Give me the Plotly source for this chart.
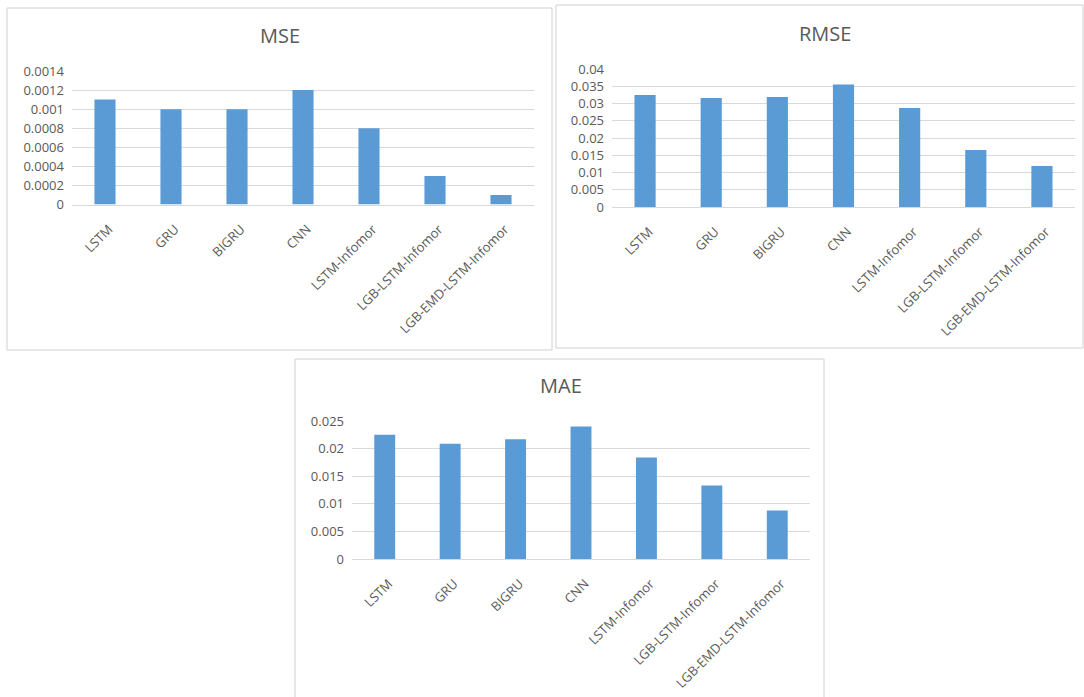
import plotly.graph_objects as go

# Models compared in each panel
models = ["LSTM", "GRU", "BIGRU", "CNN", "LSTM-Infomor",
          "LGB-LSTM-Infomor", "LGB-EMD-LSTM-Infomor"]

# Error metrics per model
mse = [0.0011, 0.0010, 0.0010, 0.0012, 0.0008, 0.0003, 0.0001]
rmse = [0.0325, 0.0316, 0.0319, 0.0355, 0.0287, 0.0165, 0.0119]
mae = [0.0225, 0.0209, 0.0217, 0.0240, 0.0184, 0.0133, 0.0088]

# Y-axis ticks per panel
mse_ticks = [0, 0.0002, 0.0004, 0.0006, 0.0008, 0.001, 0.0012, 0.0014]
mse_tick_text = ["0", "0.0002", "0.0004", "0.0006", "0.0008", "0.001", "0.0012", "0.0014"]
rmse_ticks = [0, 0.005, 0.01, 0.015, 0.02, 0.025, 0.03, 0.035, 0.04]
rmse_tick_text = ["0", "0.005", "0.01", "0.015", "0.02", "0.025", "0.03", "0.035", "0.04"]
mae_ticks = [0, 0.005, 0.01, 0.015, 0.02, 0.025]
mae_tick_text = ["0", "0.005", "0.01", "0.015", "0.02", "0.025"]

BAR = "#5b9bd5"
GRID = "#d9d9d9"
TEXT = "#595959"
FONT = "Open Sans"
W, H = 1084, 697

fig = go.Figure()

panels = [
    # name, values, ticks, tick text, axis suffix, x domain px, y px (zero, top), title pos px, frame px
    ("MSE", mse, mse_ticks, mse_tick_text, "", (72, 534), (204.5, 71), (280, 36), (7, 8, 552, 350)),
    ("RMSE", rmse, rmse_ticks, rmse_tick_text, "2", (612, 1075), (207, 69), (825, 33), (556, 5, 1083, 348)),
    ("MAE", mae, mae_ticks, mae_tick_text, "3", (352, 810), (559, 421), (561, 385), (295, 359, 824, 700)),
]

shapes = []
annotations = []
for name, vals, tv, tt, sfx, (x0, x1), (yz, yt), (tx, ty), (fx0, fy0, fx1, fy1) in panels:
    fig.add_trace(go.Bar(
        x=models, y=vals, marker=dict(color=BAR, line=dict(width=0)),
        width=0.32, xaxis="x" + sfx, yaxis="y" + sfx, showlegend=False,
    ))
    xdom = [x0 / W, x1 / W]
    ydom = [(H - yz) / H, (H - yt) / H]
    fig.update_layout(**{
        "xaxis" + sfx: dict(
            domain=xdom, anchor="y" + sfx, tickangle=-45, showgrid=False,
            showline=True, linecolor=GRID, linewidth=1, ticks="",
            tickfont=dict(family=FONT, size=13, color=TEXT),
            ticklabelstandoff=11, ticklabelshift=4,
            range=[-0.5, len(models) - 0.5], fixedrange=True, automargin=False,
        ),
        "yaxis" + sfx: dict(
            domain=ydom, anchor="x" + sfx, range=[0, tv[-1]],
            tickvals=tv, ticktext=tt, showgrid=True, gridcolor=GRID,
            gridwidth=1, zeroline=False, showline=False, ticks="",
            tickfont=dict(family=FONT, size=13, color=TEXT),
            ticklabelstandoff=7, fixedrange=True, automargin=False,
        ),
    })
    shapes.append(dict(
        type="rect", xref="paper", yref="paper",
        x0=fx0 / W, x1=fx1 / W, y0=(H - fy1) / H, y1=(H - fy0) / H,
        line=dict(color="#d0d0d0", width=1), fillcolor="rgba(0,0,0,0)", layer="below",
    ))
    annotations.append(dict(
        text=name, xref="paper", yref="paper", x=tx / W, y=(H - ty) / H,
        xanchor="center", yanchor="middle", showarrow=False,
        font=dict(family=FONT, size=20, color=TEXT),
    ))

fig.update_layout(
    width=W, height=H, margin=dict(l=0, r=0, t=0, b=0),
    paper_bgcolor="white", plot_bgcolor="white",
    shapes=shapes, annotations=annotations, bargap=0.68,
)

fig.write_html("out.html", config={"displayModeBar": False})
